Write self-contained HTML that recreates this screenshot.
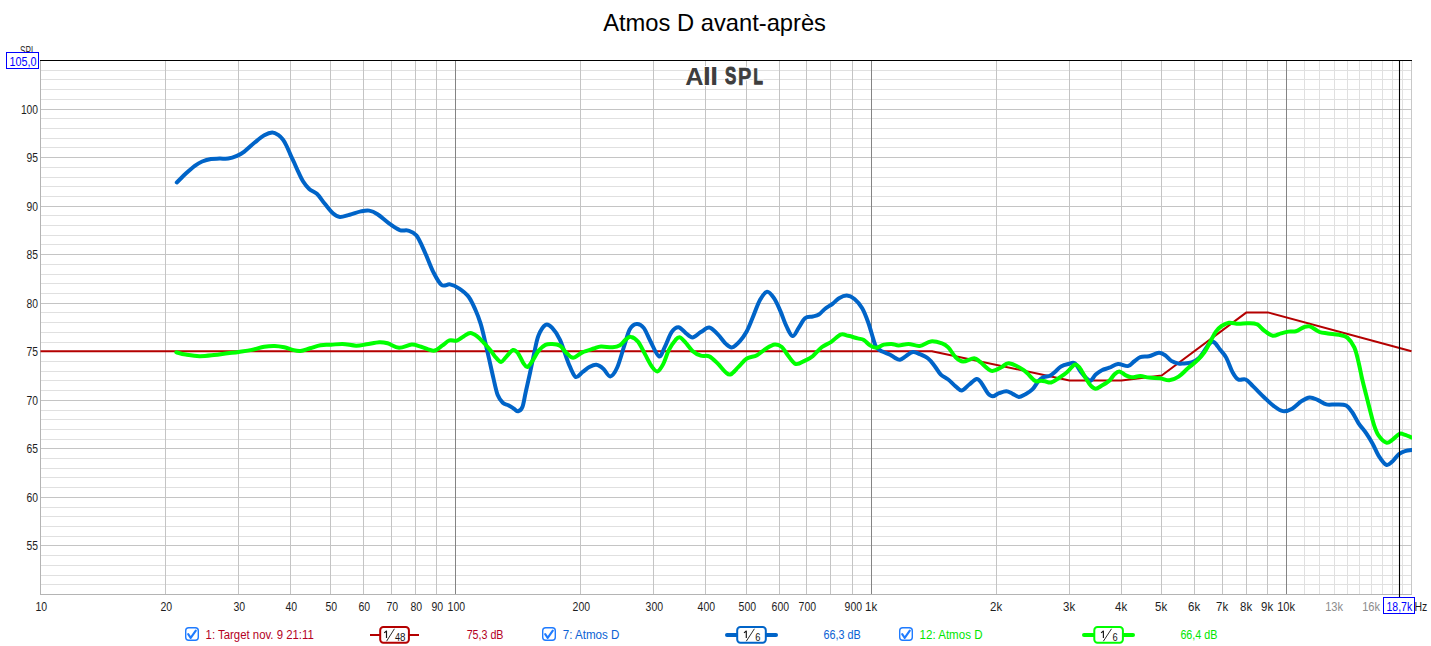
<!DOCTYPE html><html><head><meta charset="utf-8"><style>html,body{margin:0;padding:0;background:#fff;width:1431px;height:646px;overflow:hidden}svg{display:block}text{font-family:"Liberation Sans", sans-serif}</style></head><body>
<svg width="1431" height="646" viewBox="0 0 1431 646">
<rect width="1431" height="646" fill="#fff"/>
<defs><clipPath id="pc"><rect x="40" y="60" width="1372" height="535"/></clipPath></defs>
<line x1="40" x2="1411.5" y1="584.5" y2="584.5" stroke="#e0e0e0" stroke-width="1"/>
<line x1="40" x2="1411.5" y1="575.5" y2="575.5" stroke="#e0e0e0" stroke-width="1"/>
<line x1="40" x2="1411.5" y1="565.5" y2="565.5" stroke="#e0e0e0" stroke-width="1"/>
<line x1="40" x2="1411.5" y1="555.5" y2="555.5" stroke="#e0e0e0" stroke-width="1"/>
<line x1="40" x2="1411.5" y1="536.5" y2="536.5" stroke="#e0e0e0" stroke-width="1"/>
<line x1="40" x2="1411.5" y1="526.5" y2="526.5" stroke="#e0e0e0" stroke-width="1"/>
<line x1="40" x2="1411.5" y1="516.5" y2="516.5" stroke="#e0e0e0" stroke-width="1"/>
<line x1="40" x2="1411.5" y1="507.5" y2="507.5" stroke="#e0e0e0" stroke-width="1"/>
<line x1="40" x2="1411.5" y1="487.5" y2="487.5" stroke="#e0e0e0" stroke-width="1"/>
<line x1="40" x2="1411.5" y1="477.5" y2="477.5" stroke="#e0e0e0" stroke-width="1"/>
<line x1="40" x2="1411.5" y1="468.5" y2="468.5" stroke="#e0e0e0" stroke-width="1"/>
<line x1="40" x2="1411.5" y1="458.5" y2="458.5" stroke="#e0e0e0" stroke-width="1"/>
<line x1="40" x2="1411.5" y1="439.5" y2="439.5" stroke="#e0e0e0" stroke-width="1"/>
<line x1="40" x2="1411.5" y1="429.5" y2="429.5" stroke="#e0e0e0" stroke-width="1"/>
<line x1="40" x2="1411.5" y1="419.5" y2="419.5" stroke="#e0e0e0" stroke-width="1"/>
<line x1="40" x2="1411.5" y1="410.5" y2="410.5" stroke="#e0e0e0" stroke-width="1"/>
<line x1="40" x2="1411.5" y1="390.5" y2="390.5" stroke="#e0e0e0" stroke-width="1"/>
<line x1="40" x2="1411.5" y1="380.5" y2="380.5" stroke="#e0e0e0" stroke-width="1"/>
<line x1="40" x2="1411.5" y1="371.5" y2="371.5" stroke="#e0e0e0" stroke-width="1"/>
<line x1="40" x2="1411.5" y1="361.5" y2="361.5" stroke="#e0e0e0" stroke-width="1"/>
<line x1="40" x2="1411.5" y1="342.5" y2="342.5" stroke="#e0e0e0" stroke-width="1"/>
<line x1="40" x2="1411.5" y1="332.5" y2="332.5" stroke="#e0e0e0" stroke-width="1"/>
<line x1="40" x2="1411.5" y1="322.5" y2="322.5" stroke="#e0e0e0" stroke-width="1"/>
<line x1="40" x2="1411.5" y1="312.5" y2="312.5" stroke="#e0e0e0" stroke-width="1"/>
<line x1="40" x2="1411.5" y1="293.5" y2="293.5" stroke="#e0e0e0" stroke-width="1"/>
<line x1="40" x2="1411.5" y1="283.5" y2="283.5" stroke="#e0e0e0" stroke-width="1"/>
<line x1="40" x2="1411.5" y1="274.5" y2="274.5" stroke="#e0e0e0" stroke-width="1"/>
<line x1="40" x2="1411.5" y1="264.5" y2="264.5" stroke="#e0e0e0" stroke-width="1"/>
<line x1="40" x2="1411.5" y1="244.5" y2="244.5" stroke="#e0e0e0" stroke-width="1"/>
<line x1="40" x2="1411.5" y1="235.5" y2="235.5" stroke="#e0e0e0" stroke-width="1"/>
<line x1="40" x2="1411.5" y1="225.5" y2="225.5" stroke="#e0e0e0" stroke-width="1"/>
<line x1="40" x2="1411.5" y1="215.5" y2="215.5" stroke="#e0e0e0" stroke-width="1"/>
<line x1="40" x2="1411.5" y1="196.5" y2="196.5" stroke="#e0e0e0" stroke-width="1"/>
<line x1="40" x2="1411.5" y1="186.5" y2="186.5" stroke="#e0e0e0" stroke-width="1"/>
<line x1="40" x2="1411.5" y1="177.5" y2="177.5" stroke="#e0e0e0" stroke-width="1"/>
<line x1="40" x2="1411.5" y1="167.5" y2="167.5" stroke="#e0e0e0" stroke-width="1"/>
<line x1="40" x2="1411.5" y1="147.5" y2="147.5" stroke="#e0e0e0" stroke-width="1"/>
<line x1="40" x2="1411.5" y1="138.5" y2="138.5" stroke="#e0e0e0" stroke-width="1"/>
<line x1="40" x2="1411.5" y1="128.5" y2="128.5" stroke="#e0e0e0" stroke-width="1"/>
<line x1="40" x2="1411.5" y1="118.5" y2="118.5" stroke="#e0e0e0" stroke-width="1"/>
<line x1="40" x2="1411.5" y1="99.5" y2="99.5" stroke="#e0e0e0" stroke-width="1"/>
<line x1="40" x2="1411.5" y1="89.5" y2="89.5" stroke="#e0e0e0" stroke-width="1"/>
<line x1="40" x2="1411.5" y1="79.5" y2="79.5" stroke="#e0e0e0" stroke-width="1"/>
<line x1="40" x2="1411.5" y1="70.5" y2="70.5" stroke="#e0e0e0" stroke-width="1"/>
<line x1="1304.5" x2="1304.5" y1="60" y2="594" stroke="#e0e0e0" stroke-width="1"/>
<line x1="1319.5" x2="1319.5" y1="60" y2="594" stroke="#e0e0e0" stroke-width="1"/>
<line x1="1334.5" x2="1334.5" y1="60" y2="594" stroke="#e0e0e0" stroke-width="1"/>
<line x1="1347.5" x2="1347.5" y1="60" y2="594" stroke="#e0e0e0" stroke-width="1"/>
<line x1="1359.5" x2="1359.5" y1="60" y2="594" stroke="#e0e0e0" stroke-width="1"/>
<line x1="1371.5" x2="1371.5" y1="60" y2="594" stroke="#e0e0e0" stroke-width="1"/>
<line x1="1382.5" x2="1382.5" y1="60" y2="594" stroke="#e0e0e0" stroke-width="1"/>
<line x1="1392.5" x2="1392.5" y1="60" y2="594" stroke="#e0e0e0" stroke-width="1"/>
<line x1="1402.5" x2="1402.5" y1="60" y2="594" stroke="#e0e0e0" stroke-width="1"/>
<line x1="40" x2="1411.5" y1="545.5" y2="545.5" stroke="#c4c4c4" stroke-width="1"/>
<line x1="40" x2="1411.5" y1="497.5" y2="497.5" stroke="#c4c4c4" stroke-width="1"/>
<line x1="40" x2="1411.5" y1="448.5" y2="448.5" stroke="#c4c4c4" stroke-width="1"/>
<line x1="40" x2="1411.5" y1="400.5" y2="400.5" stroke="#c4c4c4" stroke-width="1"/>
<line x1="40" x2="1411.5" y1="351.5" y2="351.5" stroke="#c4c4c4" stroke-width="1"/>
<line x1="40" x2="1411.5" y1="303.5" y2="303.5" stroke="#c4c4c4" stroke-width="1"/>
<line x1="40" x2="1411.5" y1="254.5" y2="254.5" stroke="#c4c4c4" stroke-width="1"/>
<line x1="40" x2="1411.5" y1="206.5" y2="206.5" stroke="#c4c4c4" stroke-width="1"/>
<line x1="40" x2="1411.5" y1="157.5" y2="157.5" stroke="#c4c4c4" stroke-width="1"/>
<line x1="40" x2="1411.5" y1="109.5" y2="109.5" stroke="#c4c4c4" stroke-width="1"/>
<line x1="165.5" x2="165.5" y1="60" y2="594" stroke="#c4c4c4" stroke-width="1"/>
<line x1="238.5" x2="238.5" y1="60" y2="594" stroke="#c4c4c4" stroke-width="1"/>
<line x1="290.5" x2="290.5" y1="60" y2="594" stroke="#c4c4c4" stroke-width="1"/>
<line x1="330.5" x2="330.5" y1="60" y2="594" stroke="#c4c4c4" stroke-width="1"/>
<line x1="363.5" x2="363.5" y1="60" y2="594" stroke="#c4c4c4" stroke-width="1"/>
<line x1="391.5" x2="391.5" y1="60" y2="594" stroke="#c4c4c4" stroke-width="1"/>
<line x1="415.5" x2="415.5" y1="60" y2="594" stroke="#c4c4c4" stroke-width="1"/>
<line x1="436.5" x2="436.5" y1="60" y2="594" stroke="#c4c4c4" stroke-width="1"/>
<line x1="580.5" x2="580.5" y1="60" y2="594" stroke="#c4c4c4" stroke-width="1"/>
<line x1="653.5" x2="653.5" y1="60" y2="594" stroke="#c4c4c4" stroke-width="1"/>
<line x1="705.5" x2="705.5" y1="60" y2="594" stroke="#c4c4c4" stroke-width="1"/>
<line x1="746.5" x2="746.5" y1="60" y2="594" stroke="#c4c4c4" stroke-width="1"/>
<line x1="779.5" x2="779.5" y1="60" y2="594" stroke="#c4c4c4" stroke-width="1"/>
<line x1="806.5" x2="806.5" y1="60" y2="594" stroke="#c4c4c4" stroke-width="1"/>
<line x1="830.5" x2="830.5" y1="60" y2="594" stroke="#c4c4c4" stroke-width="1"/>
<line x1="852.5" x2="852.5" y1="60" y2="594" stroke="#c4c4c4" stroke-width="1"/>
<line x1="996.5" x2="996.5" y1="60" y2="594" stroke="#c4c4c4" stroke-width="1"/>
<line x1="1069.5" x2="1069.5" y1="60" y2="594" stroke="#c4c4c4" stroke-width="1"/>
<line x1="1121.5" x2="1121.5" y1="60" y2="594" stroke="#c4c4c4" stroke-width="1"/>
<line x1="1161.5" x2="1161.5" y1="60" y2="594" stroke="#c4c4c4" stroke-width="1"/>
<line x1="1194.5" x2="1194.5" y1="60" y2="594" stroke="#c4c4c4" stroke-width="1"/>
<line x1="1222.5" x2="1222.5" y1="60" y2="594" stroke="#c4c4c4" stroke-width="1"/>
<line x1="1246.5" x2="1246.5" y1="60" y2="594" stroke="#c4c4c4" stroke-width="1"/>
<line x1="1267.5" x2="1267.5" y1="60" y2="594" stroke="#c4c4c4" stroke-width="1"/>
<line x1="455.5" x2="455.5" y1="60" y2="594" stroke="#848484" stroke-width="1"/>
<line x1="871.5" x2="871.5" y1="60" y2="594" stroke="#848484" stroke-width="1"/>
<line x1="1286.5" x2="1286.5" y1="60" y2="594" stroke="#848484" stroke-width="1"/>
<line x1="40.5" x2="40.5" y1="60" y2="595" stroke="#b4b4b4"/>
<line x1="40" x2="1412" y1="594.5" y2="594.5" stroke="#b4b4b4"/>
<line x1="1411.5" x2="1411.5" y1="60" y2="594" stroke="#c8c8c8"/>
<path d="M40.5,351.3 L931.9,351.3 L1069.5,380.4 L1121.4,380.4 L1161.7,375.5 L1246.5,312.4 L1267.8,312.4 L1411.5,351.3" fill="none" stroke="#b40000" stroke-width="2" stroke-linejoin="round"/>
<path clip-path="url(#pc)" d="M176.8,182.5 C178.4,181.0 183.1,176.1 186.1,173.3 C189.1,170.5 192.1,167.8 194.8,165.8 C197.5,163.8 199.5,162.6 202.2,161.5 C204.9,160.4 208.0,159.5 210.9,159.0 C213.8,158.5 216.6,158.7 219.5,158.6 C222.4,158.5 225.3,159.0 228.2,158.6 C231.1,158.2 234.2,157.1 236.9,155.9 C239.6,154.7 241.3,153.9 244.3,151.6 C247.3,149.3 251.7,145.0 255.0,142.3 C258.3,139.6 261.4,136.9 264.3,135.3 C267.2,133.7 269.9,132.6 272.2,132.5 C274.5,132.4 276.4,133.7 278.2,134.9 C280.0,136.1 281.5,137.7 282.9,139.5 C284.3,141.3 285.4,143.5 286.6,146.0 C287.8,148.5 289.1,151.7 290.3,154.4 C291.5,157.1 292.8,159.6 294.0,162.3 C295.2,165.0 296.2,167.4 297.7,170.6 C299.2,173.8 301.1,178.2 303.0,181.3 C304.9,184.4 306.9,186.8 309.2,188.9 C311.5,191.0 314.3,191.4 316.9,193.8 C319.5,196.2 321.9,200.3 324.6,203.6 C327.3,206.8 330.3,211.1 332.9,213.3 C335.4,215.5 337.1,216.8 339.9,217.0 C342.7,217.2 346.2,215.6 349.7,214.7 C353.2,213.8 357.6,212.1 360.8,211.4 C364.1,210.7 366.4,210.1 369.2,210.6 C372.0,211.1 374.2,212.1 377.5,214.2 C380.8,216.3 385.0,220.4 388.7,223.1 C392.4,225.8 396.6,228.8 399.8,230.1 C403.1,231.3 405.4,229.7 408.2,230.6 C411.0,231.5 413.7,232.0 416.5,235.6 C419.3,239.2 422.1,246.2 424.9,252.3 C427.7,258.4 430.4,266.4 433.2,271.9 C436.0,277.3 438.8,282.9 441.6,285.0 C444.4,287.1 447.1,283.8 450.0,284.4 C452.9,285.0 456.2,286.6 459.3,288.6 C462.4,290.7 465.9,293.1 468.6,296.7 C471.3,300.3 473.5,305.5 475.5,310.0 C477.5,314.5 479.0,318.5 480.6,323.6 C482.2,328.7 483.5,334.6 484.9,340.6 C486.3,346.6 487.8,353.1 489.2,359.4 C490.6,365.6 492.0,372.2 493.4,378.1 C494.8,384.1 496.1,391.0 497.7,395.1 C499.3,399.2 501.0,401.1 502.8,402.8 C504.6,404.5 506.9,404.4 508.7,405.4 C510.5,406.4 512.3,407.8 513.9,408.8 C515.5,409.8 516.7,411.6 518.1,411.3 C519.5,411.0 521.1,410.4 522.4,407.1 C523.7,403.8 524.5,397.4 525.8,391.7 C527.1,386.0 528.6,379.5 530.0,373.0 C531.4,366.5 532.9,358.9 534.3,352.6 C535.7,346.4 536.6,340.1 538.5,335.5 C540.4,330.9 543.1,326.3 545.4,325.0 C547.7,323.7 549.8,325.4 552.2,327.9 C554.6,330.4 557.3,334.0 560.0,339.8 C562.7,345.6 565.8,356.7 568.4,362.9 C571.0,369.1 573.1,375.2 575.4,376.8 C577.7,378.4 580.1,373.8 582.4,372.2 C584.7,370.6 587.0,368.3 589.3,367.1 C591.6,365.9 594.0,364.5 596.3,364.8 C598.6,365.1 601.0,366.8 603.3,368.7 C605.6,370.6 607.9,376.6 610.2,376.4 C612.5,376.2 614.9,372.6 617.2,367.5 C619.5,362.4 622.1,352.4 624.2,346.0 C626.3,339.6 627.7,333.0 629.8,329.3 C631.9,325.6 634.4,324.2 636.7,324.0 C639.0,323.8 641.4,324.9 643.7,327.9 C646.0,330.9 648.2,337.1 650.7,341.8 C653.2,346.6 656.7,355.5 659.0,356.4 C661.3,357.3 662.5,351.4 664.6,347.4 C666.7,343.3 669.3,335.5 671.6,332.1 C673.9,328.7 676.2,327.1 678.5,327.2 C680.8,327.3 683.2,331.1 685.5,332.8 C687.8,334.5 690.0,337.5 692.5,337.4 C695.0,337.3 698.0,333.7 700.8,332.1 C703.6,330.5 706.4,327.3 709.2,327.6 C712.0,327.9 714.8,331.4 717.6,334.1 C720.4,336.8 723.5,341.7 725.9,343.9 C728.3,346.1 729.9,347.9 732.2,347.4 C734.5,346.9 737.6,343.6 739.9,341.1 C742.2,338.6 744.1,336.1 746.2,332.3 C748.3,328.5 750.1,323.7 752.4,318.3 C754.7,312.9 757.6,304.2 760.1,299.8 C762.6,295.4 764.8,292.0 767.1,291.7 C769.4,291.4 771.8,295.0 774.0,298.2 C776.2,301.4 778.1,306.0 780.2,310.6 C782.3,315.2 784.3,321.9 786.4,326.1 C788.5,330.4 790.5,335.9 792.6,336.1 C794.7,336.4 796.7,330.6 798.8,327.6 C800.9,324.6 802.7,320.2 805.0,318.3 C807.3,316.4 810.4,317.1 812.7,316.5 C815.0,315.9 816.8,315.8 818.9,314.5 C821.0,313.2 822.8,310.5 825.1,308.7 C827.4,306.9 830.5,305.4 832.8,303.6 C835.1,301.9 836.7,299.5 839.0,298.2 C841.3,296.9 844.2,295.5 846.8,295.6 C849.4,295.7 851.9,296.9 854.5,299.0 C857.1,301.1 859.9,304.3 862.2,308.3 C864.5,312.3 866.6,318.0 868.4,323.0 C870.2,328.0 871.8,334.4 873.1,338.4 C874.4,342.4 874.7,344.8 876.2,347.0 C877.8,349.2 880.1,350.3 882.4,351.6 C884.7,352.9 888.0,353.6 890.1,354.7 C892.2,355.8 893.4,357.1 895.0,357.9 C896.6,358.7 898.0,360.0 899.9,359.7 C901.8,359.4 903.9,357.3 906.1,356.0 C908.3,354.7 910.6,352.3 912.9,352.0 C915.2,351.7 917.1,353.0 919.7,354.1 C922.3,355.2 925.9,356.7 928.4,358.7 C930.9,360.7 932.5,363.2 934.6,365.9 C936.7,368.5 938.5,372.3 940.8,374.6 C943.1,376.9 945.7,377.6 948.2,379.5 C950.7,381.4 953.3,384.5 955.6,386.3 C957.9,388.1 959.5,390.7 961.8,390.4 C964.1,390.1 966.8,386.4 969.3,384.5 C971.8,382.6 974.7,379.1 976.7,378.9 C978.8,378.7 979.8,380.9 981.6,383.3 C983.5,385.7 985.9,391.0 987.8,393.2 C989.7,395.4 990.9,396.3 992.8,396.3 C994.7,396.3 996.7,394.0 999.0,393.2 C1001.3,392.4 1004.1,391.2 1006.4,391.3 C1008.7,391.4 1010.5,392.9 1012.6,393.8 C1014.7,394.7 1016.7,396.8 1018.8,396.9 C1020.9,397.0 1022.7,395.6 1025.0,394.4 C1027.3,393.1 1030.1,391.7 1032.4,389.4 C1034.7,387.1 1036.7,382.9 1038.6,380.8 C1040.5,378.8 1041.7,378.0 1043.6,377.1 C1045.5,376.2 1048.0,376.6 1049.9,375.7 C1051.8,374.8 1053.1,373.6 1054.9,372.0 C1056.8,370.4 1058.7,367.7 1061.0,366.4 C1063.3,365.1 1066.2,364.5 1068.5,364.0 C1070.8,363.5 1072.6,362.0 1074.7,363.3 C1076.8,364.6 1078.8,369.4 1080.9,372.0 C1083.0,374.6 1085.4,377.4 1087.1,378.8 C1088.8,380.2 1089.4,381.4 1090.8,380.7 C1092.2,380.0 1093.8,376.2 1095.7,374.5 C1097.6,372.8 1099.6,371.3 1101.9,370.2 C1104.2,369.1 1106.6,368.7 1109.3,367.7 C1112.0,366.7 1114.9,364.3 1118.0,364.0 C1121.1,363.7 1125.2,366.5 1127.9,366.1 C1130.6,365.7 1132.0,363.0 1134.1,361.5 C1136.2,360.0 1137.8,358.1 1140.3,357.2 C1142.8,356.3 1145.9,356.9 1149.0,356.2 C1152.1,355.5 1156.2,352.9 1158.9,352.8 C1161.6,352.7 1163.0,354.0 1165.1,355.3 C1167.2,356.6 1169.0,359.5 1171.3,360.9 C1173.6,362.3 1176.9,363.2 1178.7,363.6 C1180.5,364.0 1179.8,363.7 1182.0,363.5 C1184.2,363.3 1188.8,363.4 1191.6,362.5 C1194.4,361.6 1196.8,359.9 1199.0,357.9 C1201.2,355.9 1202.9,352.7 1204.6,350.4 C1206.3,348.1 1207.7,345.3 1209.2,343.9 C1210.8,342.5 1212.1,341.2 1213.9,342.1 C1215.7,343.0 1218.0,346.9 1220.0,349.5 C1222.0,352.1 1224.1,353.8 1226.2,357.6 C1228.3,361.4 1230.7,368.9 1232.7,372.5 C1234.7,376.1 1236.1,378.3 1238.3,379.5 C1240.5,380.7 1243.2,378.4 1245.7,379.5 C1248.2,380.6 1250.1,383.4 1253.2,386.4 C1256.3,389.4 1260.9,394.2 1264.3,397.5 C1267.7,400.8 1270.5,403.6 1273.6,405.9 C1276.7,408.2 1279.8,410.6 1282.9,411.1 C1286.0,411.6 1289.1,410.4 1292.2,408.7 C1295.3,407.0 1298.6,403.1 1301.5,401.2 C1304.4,399.3 1306.9,397.6 1309.7,397.4 C1312.5,397.2 1315.3,399.0 1318.1,400.2 C1320.9,401.4 1323.4,403.7 1326.4,404.4 C1329.4,405.1 1332.9,404.2 1336.2,404.4 C1339.5,404.6 1343.5,404.1 1346.2,405.5 C1348.9,406.9 1350.3,409.5 1352.4,412.5 C1354.5,415.5 1356.3,419.8 1358.6,423.3 C1360.9,426.8 1364.0,430.0 1366.3,433.4 C1368.6,436.8 1370.4,439.7 1372.5,443.4 C1374.6,447.1 1376.4,452.2 1378.7,455.8 C1381.0,459.4 1384.1,463.9 1386.4,464.8 C1388.7,465.7 1390.5,462.9 1392.6,461.2 C1394.7,459.4 1396.7,456.0 1398.8,454.3 C1400.9,452.6 1402.6,451.9 1405.0,451.2 C1407.4,450.5 1411.7,450.1 1413.0,449.9" fill="none" stroke="#0064c8" stroke-width="4" stroke-linecap="round" stroke-linejoin="round"/>
<path clip-path="url(#pc)" d="M176.3,352.3 C177.9,352.7 181.8,354.0 185.7,354.6 C189.5,355.2 194.7,356.1 199.4,356.2 C204.1,356.3 209.3,355.6 214.0,355.1 C218.7,354.6 223.6,353.8 227.7,353.3 C231.8,352.8 234.7,352.6 238.7,352.0 C242.7,351.4 247.5,350.8 251.8,349.9 C256.1,349.0 260.5,347.3 264.3,346.7 C268.1,346.1 271.5,345.9 274.8,346.0 C278.1,346.1 281.3,346.7 284.3,347.3 C287.3,347.9 289.9,349.3 292.6,349.9 C295.3,350.5 297.6,351.2 300.5,350.9 C303.4,350.6 306.7,349.2 310.0,348.3 C313.3,347.4 317.0,345.8 320.5,345.2 C324.0,344.6 327.3,345.0 331.0,344.8 C334.7,344.6 338.3,343.8 342.5,343.9 C346.7,344.0 352.1,345.6 356.1,345.7 C360.1,345.8 362.8,344.9 366.6,344.3 C370.5,343.7 375.7,342.4 379.2,342.2 C382.7,342.0 384.3,342.4 387.6,343.3 C390.9,344.2 395.1,347.6 399.1,347.8 C403.1,348.0 408.0,344.8 411.7,344.6 C415.4,344.4 417.4,345.7 421.1,346.7 C424.8,347.7 430.2,350.9 433.7,350.7 C437.2,350.5 439.5,347.4 442.1,345.7 C444.7,344.0 446.9,341.2 449.4,340.4 C451.8,339.5 454.4,341.3 456.8,340.6 C459.2,339.9 461.3,337.7 463.6,336.4 C465.9,335.1 468.1,333.0 470.4,333.0 C472.7,333.0 474.9,334.7 477.2,336.4 C479.5,338.1 481.8,340.8 484.1,343.2 C486.4,345.6 488.9,348.5 490.9,350.9 C492.9,353.3 494.3,355.9 496.0,357.7 C497.7,359.5 499.4,362.0 501.1,361.9 C502.8,361.8 504.2,358.8 506.2,356.8 C508.2,354.8 511.0,350.6 513.0,350.0 C515.0,349.4 516.4,351.3 518.1,353.4 C519.8,355.5 521.6,360.5 523.2,362.8 C524.8,365.1 525.8,367.6 527.5,367.0 C529.2,366.4 531.6,362.1 533.4,359.4 C535.2,356.7 536.5,353.3 538.5,350.9 C540.5,348.5 543.1,346.0 545.4,344.9 C547.7,343.8 549.8,344.0 552.2,344.1 C554.6,344.2 557.7,344.4 560.0,345.8 C562.3,347.2 563.9,350.4 566.1,352.4 C568.3,354.4 570.4,357.8 573.1,357.8 C575.8,357.8 578.9,353.9 582.4,352.4 C585.9,350.8 590.9,349.5 594.0,348.5 C597.1,347.5 597.9,346.8 601.0,346.6 C604.1,346.4 609.4,347.5 612.6,347.3 C615.8,347.1 617.8,346.6 620.0,345.3 C622.2,344.0 623.8,341.1 625.6,339.7 C627.5,338.3 629.0,336.5 631.1,336.9 C633.2,337.2 635.8,338.9 638.1,341.8 C640.4,344.7 642.8,350.2 645.1,354.4 C647.4,358.6 650.0,364.1 652.1,366.9 C654.2,369.7 655.8,371.9 657.6,371.4 C659.5,370.9 661.3,367.6 663.2,364.1 C665.1,360.6 666.7,354.3 668.8,350.2 C670.9,346.1 673.9,341.8 675.7,339.7 C677.6,337.6 678.3,336.9 679.9,337.4 C681.5,337.9 683.4,340.2 685.5,342.5 C687.6,344.8 690.0,348.7 692.5,350.9 C695.0,353.1 698.0,354.8 700.8,355.7 C703.6,356.6 706.4,355.1 709.2,356.4 C712.0,357.7 714.8,360.7 717.6,363.4 C720.4,366.1 723.7,370.7 725.9,372.5 C728.1,374.3 728.7,375.2 730.8,374.3 C732.9,373.4 735.8,369.5 738.5,366.9 C741.2,364.3 743.7,360.4 746.8,358.5 C749.9,356.6 753.8,356.9 757.0,355.2 C760.2,353.5 763.3,350.3 766.3,348.5 C769.3,346.7 772.2,344.9 774.8,344.6 C777.4,344.4 779.6,345.2 781.8,347.0 C784.0,348.8 785.7,352.7 788.0,355.5 C790.3,358.3 792.9,363.1 795.7,364.0 C798.5,364.9 802.2,361.9 805.0,360.6 C807.8,359.3 809.9,358.5 812.7,356.2 C815.5,353.9 818.9,349.4 822.0,347.0 C825.1,344.6 828.2,343.9 831.3,341.8 C834.4,339.7 837.8,335.6 840.6,334.6 C843.4,333.6 845.5,335.2 848.3,335.8 C851.1,336.4 855.0,337.7 857.6,338.4 C860.2,339.1 861.7,338.8 863.8,340.0 C865.9,341.2 867.9,344.1 870.0,345.4 C872.1,346.7 873.9,347.8 876.2,347.7 C878.5,347.6 881.3,345.2 883.9,344.6 C886.5,344.0 889.1,343.8 891.6,343.9 C894.1,344.0 895.9,345.5 898.7,345.5 C901.5,345.5 905.1,343.8 908.6,343.9 C912.1,344.0 916.0,346.3 919.7,345.9 C923.4,345.5 927.2,341.8 930.9,341.4 C934.6,341.0 939.1,342.4 942.0,343.4 C944.9,344.4 945.9,345.0 948.2,347.3 C950.5,349.6 953.1,354.8 955.6,357.2 C958.1,359.6 960.0,361.4 963.1,361.6 C966.2,361.8 971.3,358.1 974.2,358.2 C977.1,358.3 977.5,360.1 980.4,362.2 C983.3,364.3 988.0,370.1 991.5,370.9 C995.0,371.7 998.6,368.5 1001.5,367.2 C1004.4,365.9 1005.2,362.7 1008.9,363.2 C1012.6,363.7 1019.4,367.3 1023.7,370.2 C1028.0,373.1 1032.0,379.0 1034.9,380.8 C1037.8,382.6 1039.4,380.7 1041.1,380.8 C1042.8,380.9 1043.3,381.0 1045.0,381.3 C1046.7,381.6 1048.8,383.0 1051.1,382.5 C1053.4,382.0 1055.9,379.9 1058.6,378.2 C1061.3,376.4 1064.5,374.3 1067.2,372.0 C1069.9,369.7 1072.6,365.3 1074.7,364.6 C1076.8,363.9 1077.8,365.4 1079.6,367.7 C1081.4,370.0 1083.9,375.2 1085.8,378.2 C1087.7,381.2 1089.1,383.9 1090.8,385.6 C1092.5,387.4 1093.8,388.7 1095.7,388.7 C1097.6,388.7 1099.6,386.9 1101.9,385.6 C1104.2,384.3 1107.2,382.6 1109.3,380.7 C1111.4,378.8 1112.6,376.1 1114.3,374.5 C1116.0,372.9 1117.4,371.3 1119.3,371.4 C1121.2,371.5 1123.4,374.1 1125.4,375.1 C1127.5,376.1 1129.1,377.1 1131.6,377.3 C1134.1,377.5 1137.4,376.1 1140.3,376.1 C1143.2,376.2 1145.7,377.2 1149.0,377.6 C1152.3,378.0 1156.6,377.8 1160.0,378.2 C1163.4,378.6 1166.2,380.6 1169.3,380.3 C1172.4,380.0 1175.5,378.6 1178.6,376.6 C1181.7,374.6 1184.8,371.0 1187.9,368.3 C1191.0,365.6 1194.3,363.3 1197.1,360.6 C1199.9,357.9 1202.4,355.1 1204.6,352.0 C1206.8,348.9 1208.2,345.5 1210.1,342.1 C1211.9,338.8 1213.8,334.6 1215.7,331.9 C1217.6,329.2 1219.4,327.5 1221.6,326.0 C1223.8,324.5 1226.2,323.1 1229.0,322.7 C1231.8,322.3 1235.2,323.7 1238.3,323.8 C1241.4,323.9 1244.5,323.1 1247.6,323.2 C1250.7,323.3 1254.1,322.9 1256.9,324.2 C1259.7,325.4 1261.7,328.8 1264.3,330.7 C1266.9,332.6 1269.9,335.2 1272.7,335.7 C1275.5,336.1 1278.4,334.1 1281.0,333.4 C1283.6,332.7 1286.0,332.0 1288.5,331.6 C1291.0,331.2 1293.4,331.9 1295.9,331.2 C1298.4,330.5 1301.0,328.3 1303.3,327.5 C1305.6,326.7 1307.0,325.6 1309.7,326.4 C1312.4,327.1 1316.5,330.8 1319.5,332.0 C1322.5,333.2 1324.5,332.9 1327.8,333.4 C1331.0,333.9 1335.8,334.1 1339.0,334.8 C1342.2,335.5 1344.8,335.5 1347.3,337.6 C1349.8,339.7 1352.4,343.2 1354.3,347.3 C1356.2,351.4 1357.2,356.6 1358.5,362.0 C1359.8,367.4 1361.1,374.4 1362.4,380.0 C1363.7,385.6 1365.0,390.4 1366.3,395.5 C1367.6,400.6 1368.9,406.0 1370.2,410.9 C1371.5,415.8 1372.6,420.8 1374.0,424.9 C1375.4,429.0 1376.6,432.7 1378.7,435.7 C1380.8,438.7 1384.1,442.0 1386.4,442.7 C1388.7,443.4 1390.4,441.1 1392.6,439.6 C1394.8,438.1 1397.5,434.6 1399.6,433.8 C1401.7,433.0 1402.8,434.2 1405.0,434.9 C1407.2,435.6 1411.7,437.5 1413.0,438.0" fill="none" stroke="#00ff00" stroke-width="4" stroke-linecap="round" stroke-linejoin="round"/>
<line x1="40" x2="1412" y1="60.5" y2="60.5" stroke="#000" stroke-width="1.2"/>
<line x1="1399.5" x2="1399.5" y1="60" y2="598" stroke="#000" stroke-width="1.1"/>
<text x="603.2" y="30.8" font-size="23.6" fill="#000" textLength="222.8" lengthAdjust="spacingAndGlyphs">Atmos D avant-après</text>
<text transform="translate(685.37,84.8) scale(1.0343,1)" font-size="24.50" font-weight="bold" fill="#fff" stroke="#fff" stroke-width="2" vector-effect="non-scaling-stroke">A</text>
<text transform="translate(702.71,84.8) scale(1.2197,1)" font-size="24.50" font-weight="bold" fill="#fff" stroke="#fff" stroke-width="2" vector-effect="non-scaling-stroke">l</text>
<text transform="translate(710.01,84.8) scale(1.2197,1)" font-size="24.50" font-weight="bold" fill="#fff" stroke="#fff" stroke-width="2" vector-effect="non-scaling-stroke">l</text>
<text transform="translate(724.96,84.35) scale(0.7273,1)" font-size="23.18" font-weight="bold" fill="#fff" stroke="#fff" stroke-width="2.9" vector-effect="non-scaling-stroke">S</text>
<text transform="translate(738.06,84.5) scale(0.8454,1)" font-size="23.62" font-weight="bold" fill="#fff" stroke="#fff" stroke-width="2.6" vector-effect="non-scaling-stroke">P</text>
<text transform="translate(753.53,84.25) scale(0.6640,1)" font-size="22.89" font-weight="bold" fill="#fff" stroke="#fff" stroke-width="3.1" vector-effect="non-scaling-stroke">L</text>
<text transform="translate(685.37,84.8) scale(1.0343,1)" font-size="24.50" font-weight="bold" fill="#3e3e3e">A</text>
<text transform="translate(702.71,84.8) scale(1.2197,1)" font-size="24.50" font-weight="bold" fill="#3e3e3e">l</text>
<text transform="translate(710.01,84.8) scale(1.2197,1)" font-size="24.50" font-weight="bold" fill="#3e3e3e">l</text>
<text transform="translate(724.96,84.35) scale(0.7273,1)" font-size="23.18" font-weight="bold" fill="#3e3e3e" stroke="#3e3e3e" stroke-width="0.9" vector-effect="non-scaling-stroke">S</text>
<text transform="translate(738.06,84.5) scale(0.8454,1)" font-size="23.62" font-weight="bold" fill="#3e3e3e" stroke="#3e3e3e" stroke-width="0.6" vector-effect="non-scaling-stroke">P</text>
<text transform="translate(753.53,84.25) scale(0.6640,1)" font-size="22.89" font-weight="bold" fill="#3e3e3e" stroke="#3e3e3e" stroke-width="1.1" vector-effect="non-scaling-stroke">L</text>
<text x="38.1" y="550" font-size="12.3" fill="#1e1e1e" text-anchor="end" textLength="11.5" lengthAdjust="spacingAndGlyphs">55</text>
<text x="38.1" y="502" font-size="12.3" fill="#1e1e1e" text-anchor="end" textLength="11.5" lengthAdjust="spacingAndGlyphs">60</text>
<text x="38.1" y="453" font-size="12.3" fill="#1e1e1e" text-anchor="end" textLength="11.5" lengthAdjust="spacingAndGlyphs">65</text>
<text x="38.1" y="405" font-size="12.3" fill="#1e1e1e" text-anchor="end" textLength="11.5" lengthAdjust="spacingAndGlyphs">70</text>
<text x="38.1" y="356" font-size="12.3" fill="#1e1e1e" text-anchor="end" textLength="11.5" lengthAdjust="spacingAndGlyphs">75</text>
<text x="38.1" y="308" font-size="12.3" fill="#1e1e1e" text-anchor="end" textLength="11.5" lengthAdjust="spacingAndGlyphs">80</text>
<text x="38.1" y="259" font-size="12.3" fill="#1e1e1e" text-anchor="end" textLength="11.5" lengthAdjust="spacingAndGlyphs">85</text>
<text x="38.1" y="211" font-size="12.3" fill="#1e1e1e" text-anchor="end" textLength="11.5" lengthAdjust="spacingAndGlyphs">90</text>
<text x="38.1" y="162" font-size="12.3" fill="#1e1e1e" text-anchor="end" textLength="11.5" lengthAdjust="spacingAndGlyphs">95</text>
<text x="38.1" y="114" font-size="12.3" fill="#1e1e1e" text-anchor="end" textLength="17.2" lengthAdjust="spacingAndGlyphs">100</text>
<text x="35.5" y="55.2" font-size="13" fill="#333" text-anchor="end" textLength="15.6" lengthAdjust="spacingAndGlyphs">SPL</text>
<rect x="6.5" y="52.5" width="32" height="16" fill="#fff" stroke="#0000ff" stroke-width="1"/>
<text x="23" y="66" font-size="12.3" fill="#0000ff" text-anchor="middle" textLength="27" lengthAdjust="spacingAndGlyphs">105,0</text>
<text x="41.3" y="610.9" font-size="12.3" fill="#1e1e1e" text-anchor="middle" textLength="11.7" lengthAdjust="spacingAndGlyphs">10</text>
<text x="166.3" y="610.9" font-size="12.3" fill="#1e1e1e" text-anchor="middle" textLength="11.7" lengthAdjust="spacingAndGlyphs">20</text>
<text x="239.3" y="610.9" font-size="12.3" fill="#1e1e1e" text-anchor="middle" textLength="11.7" lengthAdjust="spacingAndGlyphs">30</text>
<text x="291.3" y="610.9" font-size="12.3" fill="#1e1e1e" text-anchor="middle" textLength="11.7" lengthAdjust="spacingAndGlyphs">40</text>
<text x="331.3" y="610.9" font-size="12.3" fill="#1e1e1e" text-anchor="middle" textLength="11.7" lengthAdjust="spacingAndGlyphs">50</text>
<text x="364.3" y="610.9" font-size="12.3" fill="#1e1e1e" text-anchor="middle" textLength="11.7" lengthAdjust="spacingAndGlyphs">60</text>
<text x="392.3" y="610.9" font-size="12.3" fill="#1e1e1e" text-anchor="middle" textLength="11.7" lengthAdjust="spacingAndGlyphs">70</text>
<text x="416.3" y="610.9" font-size="12.3" fill="#1e1e1e" text-anchor="middle" textLength="11.7" lengthAdjust="spacingAndGlyphs">80</text>
<text x="437.3" y="610.9" font-size="12.3" fill="#1e1e1e" text-anchor="middle" textLength="11.7" lengthAdjust="spacingAndGlyphs">90</text>
<text x="456.3" y="610.9" font-size="12.3" fill="#1e1e1e" text-anchor="middle" textLength="17.5" lengthAdjust="spacingAndGlyphs">100</text>
<text x="581.3" y="610.9" font-size="12.3" fill="#1e1e1e" text-anchor="middle" textLength="17.5" lengthAdjust="spacingAndGlyphs">200</text>
<text x="654.3" y="610.9" font-size="12.3" fill="#1e1e1e" text-anchor="middle" textLength="17.5" lengthAdjust="spacingAndGlyphs">300</text>
<text x="706.3" y="610.9" font-size="12.3" fill="#1e1e1e" text-anchor="middle" textLength="17.5" lengthAdjust="spacingAndGlyphs">400</text>
<text x="747.3" y="610.9" font-size="12.3" fill="#1e1e1e" text-anchor="middle" textLength="17.5" lengthAdjust="spacingAndGlyphs">500</text>
<text x="780.3" y="610.9" font-size="12.3" fill="#1e1e1e" text-anchor="middle" textLength="17.5" lengthAdjust="spacingAndGlyphs">600</text>
<text x="807.3" y="610.9" font-size="12.3" fill="#1e1e1e" text-anchor="middle" textLength="17.5" lengthAdjust="spacingAndGlyphs">700</text>
<text x="853.3" y="610.9" font-size="12.3" fill="#1e1e1e" text-anchor="middle" textLength="17.5" lengthAdjust="spacingAndGlyphs">900</text>
<text x="871.1" y="610.9" font-size="12.3" fill="#1e1e1e" text-anchor="middle" textLength="12.1" lengthAdjust="spacingAndGlyphs">1k</text>
<text x="996.1" y="610.9" font-size="12.3" fill="#1e1e1e" text-anchor="middle" textLength="12.1" lengthAdjust="spacingAndGlyphs">2k</text>
<text x="1069.1" y="610.9" font-size="12.3" fill="#1e1e1e" text-anchor="middle" textLength="12.1" lengthAdjust="spacingAndGlyphs">3k</text>
<text x="1121.1" y="610.9" font-size="12.3" fill="#1e1e1e" text-anchor="middle" textLength="12.1" lengthAdjust="spacingAndGlyphs">4k</text>
<text x="1161.1" y="610.9" font-size="12.3" fill="#1e1e1e" text-anchor="middle" textLength="12.1" lengthAdjust="spacingAndGlyphs">5k</text>
<text x="1194.1" y="610.9" font-size="12.3" fill="#1e1e1e" text-anchor="middle" textLength="12.1" lengthAdjust="spacingAndGlyphs">6k</text>
<text x="1222.1" y="610.9" font-size="12.3" fill="#1e1e1e" text-anchor="middle" textLength="12.1" lengthAdjust="spacingAndGlyphs">7k</text>
<text x="1246.1" y="610.9" font-size="12.3" fill="#1e1e1e" text-anchor="middle" textLength="12.1" lengthAdjust="spacingAndGlyphs">8k</text>
<text x="1267.1" y="610.9" font-size="12.3" fill="#1e1e1e" text-anchor="middle" textLength="12.1" lengthAdjust="spacingAndGlyphs">9k</text>
<text x="1286.1" y="610.9" font-size="12.3" fill="#1e1e1e" text-anchor="middle" textLength="17.9" lengthAdjust="spacingAndGlyphs">10k</text>
<text x="1334.1" y="610.9" font-size="12.3" fill="#8c8c8c" text-anchor="middle" textLength="17.9" lengthAdjust="spacingAndGlyphs">13k</text>
<text x="1371.1" y="610.9" font-size="12.3" fill="#8c8c8c" text-anchor="middle" textLength="17.9" lengthAdjust="spacingAndGlyphs">16k</text>
<rect x="1383.5" y="597.5" width="31" height="16" fill="#fff" stroke="#0000ff"/>
<text x="1386.5" y="610.9" font-size="12.3" fill="#0000ff" textLength="25.7" lengthAdjust="spacingAndGlyphs">18,7k</text>
<text x="1414.4" y="610.9" font-size="12.3" fill="#1e1e1e" textLength="12.8" lengthAdjust="spacingAndGlyphs">Hz</text>
<rect x="185.7" y="627.7" width="12.6" height="12.6" rx="3" fill="#fff" stroke="#1e7bff" stroke-width="1.4"/><path d="M188.2,634.2 L190.7,637.9 L195.8,630.6" fill="none" stroke="#1e7bff" stroke-width="2.1" stroke-linecap="round" stroke-linejoin="round"/>
<text x="205.6" y="638.8" font-size="12" fill="#b4001e" textLength="108.2" lengthAdjust="spacingAndGlyphs">1: Target nov. 9 21:11</text>
<line x1="370.0" x2="419.0" y1="635" y2="635" stroke="#b40000" stroke-width="2" stroke-linecap="butt"/><rect x="380.2" y="627" width="28.69999999999999" height="15.8" rx="3.2" fill="#fff" stroke="#b40000" stroke-width="2"/><path d="M384.2,632.9 L386.5,631 L386.5,638" fill="none" stroke="#151515" stroke-width="1.15" stroke-linejoin="round"/><line x1="394.4" x2="386.6" y1="628.8" y2="641.2" stroke="#222" stroke-width="0.95"/><text transform="translate(394.89,640.8) scale(0.9129,1)" x="0" y="0" font-size="10" fill="#151515">4</text><text transform="translate(399.97,640.8) scale(0.9803,1)" x="0" y="0" font-size="10" fill="#151515">8</text>
<text x="466.7" y="638.8" font-size="12" fill="#b4001e" textLength="36.8" lengthAdjust="spacingAndGlyphs">75,3 dB</text>
<rect x="542.7" y="627.7" width="12.6" height="12.6" rx="3" fill="#fff" stroke="#1e7bff" stroke-width="1.4"/><path d="M545.2,634.2 L547.7,637.9 L552.8,630.6" fill="none" stroke="#1e7bff" stroke-width="2.1" stroke-linecap="round" stroke-linejoin="round"/>
<text x="562.7" y="638.8" font-size="12" fill="#0a62d4" textLength="56.8" lengthAdjust="spacingAndGlyphs">7: Atmos D</text>
<line x1="727.0" x2="776.0" y1="635" y2="635" stroke="#0064c8" stroke-width="4" stroke-linecap="round"/><rect x="737.2" y="627" width="28.59999999999991" height="15.8" rx="3.2" fill="#fff" stroke="#0064c8" stroke-width="2"/><path d="M744.0,632.9 L746.3,631 L746.3,638" fill="none" stroke="#151515" stroke-width="1.15" stroke-linejoin="round"/><line x1="754.4" x2="746.3" y1="628.8" y2="641.2" stroke="#222" stroke-width="0.95"/><text transform="translate(755.33,640.8) scale(0.9319,1)" x="0" y="0" font-size="10" fill="#151515">6</text>
<text x="823.4" y="638.8" font-size="12" fill="#0a62d4" textLength="37.3" lengthAdjust="spacingAndGlyphs">66,3 dB</text>
<rect x="899.7" y="627.7" width="12.6" height="12.6" rx="3" fill="#fff" stroke="#1e7bff" stroke-width="1.4"/><path d="M902.2,634.2 L904.7,637.9 L909.8,630.6" fill="none" stroke="#1e7bff" stroke-width="2.1" stroke-linecap="round" stroke-linejoin="round"/>
<text x="919.6" y="638.8" font-size="12" fill="#00e600" textLength="62.9" lengthAdjust="spacingAndGlyphs">12: Atmos D</text>
<line x1="1084.0" x2="1133.0" y1="635" y2="635" stroke="#00ff00" stroke-width="4" stroke-linecap="round"/><rect x="1094.3" y="627" width="28.600000000000136" height="15.8" rx="3.2" fill="#fff" stroke="#00ff00" stroke-width="2"/><path d="M1101.1,632.9 L1103.4,631 L1103.4,638" fill="none" stroke="#151515" stroke-width="1.15" stroke-linejoin="round"/><line x1="1111.5" x2="1103.4" y1="628.8" y2="641.2" stroke="#222" stroke-width="0.95"/><text transform="translate(1112.43,640.8) scale(0.9319,1)" x="0" y="0" font-size="10" fill="#151515">6</text>
<text x="1180.4" y="638.8" font-size="12" fill="#00e600" textLength="37" lengthAdjust="spacingAndGlyphs">66,4 dB</text>
</svg></body></html>
